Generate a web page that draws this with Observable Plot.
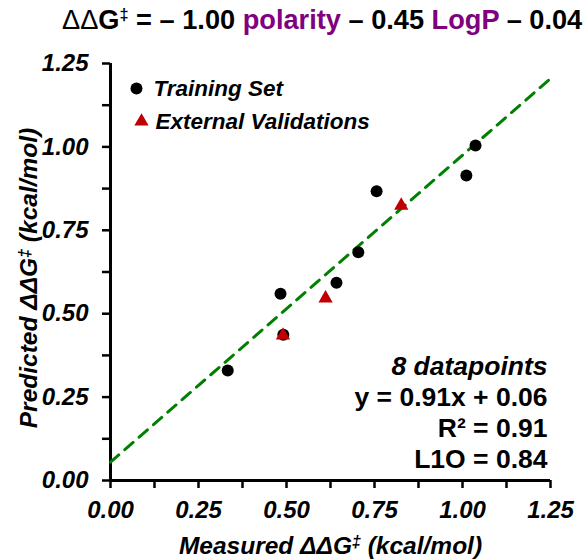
<!DOCTYPE html>
<html><head><meta charset="utf-8">
<script src="https://cdn.jsdelivr.net/npm/d3@7"></script>
<script src="https://cdn.jsdelivr.net/npm/@observablehq/plot@0.6"></script>
<style>
body{margin:0;background:#fff;font-family:"Liberation Sans",Arial,sans-serif;}
#title{height:40px;line-height:40px;font-size:27.2px;font-weight:bold;white-space:nowrap;padding-left:62px;color:#000;}
#title .p{color:#800080}
#title .d{font-weight:normal}
#title .s{font-size:0.6em;vertical-align:0.55em;line-height:0}
</style></head><body>
<div id="title"><span class="d">ΔΔ</span>G<span class="s">‡</span> = – 1.00 <span class="p">polarity</span> – 0.45 <span class="p">LogP</span> – 0.04</div>
<div id="chart"></div>
<script>
// Data
const trainX = [0.333, 0.483, 0.491, 0.642, 0.704, 0.756, 1.011, 1.037];
const trainY = [0.330, 0.560, 0.437, 0.593, 0.684, 0.867, 0.914, 1.004];
const validX = [0.490, 0.611, 0.826];
const validY = [0.435, 0.546, 0.824];
const fitX = [0, 1.25];
const fitY = [0.055, 1.205];
const tickValues = [0, 0.125, 0.25, 0.375, 0.5, 0.625, 0.75, 0.875, 1, 1.125, 1.25];
const tickLabels = ["0.00", "", "0.25", "", "0.50", "", "0.75", "", "1.00", "", "1.25"];
const legendLabels = ["Training Set", "External Validations"];
const statsLines = ["8 datapoints", "y = 0.91x + 0.06", "R² = 0.91", "L1O = 0.84"];
const xTitle = "Measured ΔΔG‡ (kcal/mol)";
const yTitle = "Predicted ΔΔG‡ (kcal/mol)";

const training = trainX.map((x, i) => ({x, y: trainY[i]}));
const validation = validX.map((x, i) => ({x, y: validY[i]}));
const fit = fitX.map((x, i) => ({x, y: fitY[i]}));
const fmt = d => tickLabels[tickValues.indexOf(d)] ?? "";

const FONT = "Liberation Sans, Arial, sans-serif";
const txt = {fontWeight: "bold", fontSize: 24};
const stat = {fontWeight: "bold", fontSize: 26.5, textAnchor: "end", lineAnchor: "middle", frameAnchor: "bottom-right", dx: -3, text: d => d};

const chart = Plot.plot({
  width: 583,
  height: 520,
  marginTop: 23,
  marginBottom: 80,
  marginLeft: 110,
  marginRight: 33,
  style: {fontFamily: FONT},
  x: {domain: [0, 1.25], axis: null},
  y: {domain: [0, 1.25], axis: null},
  marks: [
    Plot.axisX({ticks: tickValues, tickFormat: fmt, tickSize: 8, tickPadding: 12, strokeWidth: 2.5, label: null, ...txt, fontStyle: "italic"}),
    Plot.axisY({ticks: tickValues, tickFormat: fmt, tickSize: 8, tickPadding: 14, strokeWidth: 2.5, label: null, ...txt, fontStyle: "italic"}),
    Plot.ruleX([0], {stroke: "black", strokeWidth: 3}),
    Plot.ruleY([0], {stroke: "black", strokeWidth: 3}),
    Plot.line(fit, {x: "x", y: "y", stroke: "#008000", strokeWidth: 3, strokeDasharray: "11,8"}),
    Plot.dot(training, {x: "x", y: "y", r: 6, fill: "#000"}),
    Plot.dot(validation, {x: "x", y: "y", r: 5.3, symbol: "triangle", fill: "#C00000"}),
    // legend
    Plot.dot([legendLabels[0]], {frameAnchor: "top-left", dx: 26, dy: 25, r: 6, fill: "#000"}),
    Plot.text([legendLabels[0]], {frameAnchor: "top-left", dx: 43, dy: 25, text: d => d, textAnchor: "start", lineAnchor: "middle", fontWeight: "bold", fontSize: 22.5, fontStyle: "italic"}),
    Plot.dot([legendLabels[1]], {frameAnchor: "top-left", dx: 31, dy: 58, r: 5.3, symbol: "triangle", fill: "#C00000"}),
    Plot.text([legendLabels[1]], {frameAnchor: "top-left", dx: 45, dy: 58, text: d => d, textAnchor: "start", lineAnchor: "middle", fontWeight: "bold", fontSize: 22.5, fontStyle: "italic"}),
    // stats
    Plot.text([statsLines[0]], {...stat, dy: -114, fontStyle: "italic"}),
    Plot.text([statsLines[1]], {...stat, dy: -83}),
    Plot.text([statsLines[2]], {...stat, dy: -52}),
    Plot.text([statsLines[3]], {...stat, dy: -21}),
    // axis titles
    Plot.text([xTitle], {frameAnchor: "bottom", dy: 66, text: d => d, textAnchor: "middle", lineAnchor: "middle", fontWeight: "bold", fontSize: 24.5, fontStyle: "italic"}),
    Plot.text([yTitle], {frameAnchor: "left", dx: -81, dy: 6, rotate: -90, text: d => d, textAnchor: "middle", lineAnchor: "middle", fontWeight: "bold", fontSize: 24.5, fontStyle: "italic"})
  ]
});
// render the double dagger in the axis titles as a small superscript, as in the reference
chart.querySelectorAll("text").forEach(t => {
  if (t.children.length === 0 && t.textContent.includes("‡")) {
    const [a, b] = t.textContent.split("‡");
    t.textContent = "";
    const ns = "http://www.w3.org/2000/svg";
    const t1 = document.createElementNS(ns, "tspan"); t1.textContent = a;
    const t2 = document.createElementNS(ns, "tspan"); t2.textContent = "‡";
    t2.setAttribute("font-size", "0.65em"); t2.setAttribute("dy", "-0.45em");
    const t3 = document.createElementNS(ns, "tspan"); t3.textContent = b; t3.setAttribute("dy", "0.29em");
    t.append(t1, t2, t3);
  }
});
document.getElementById("chart").appendChild(chart);
</script>
</body></html>
